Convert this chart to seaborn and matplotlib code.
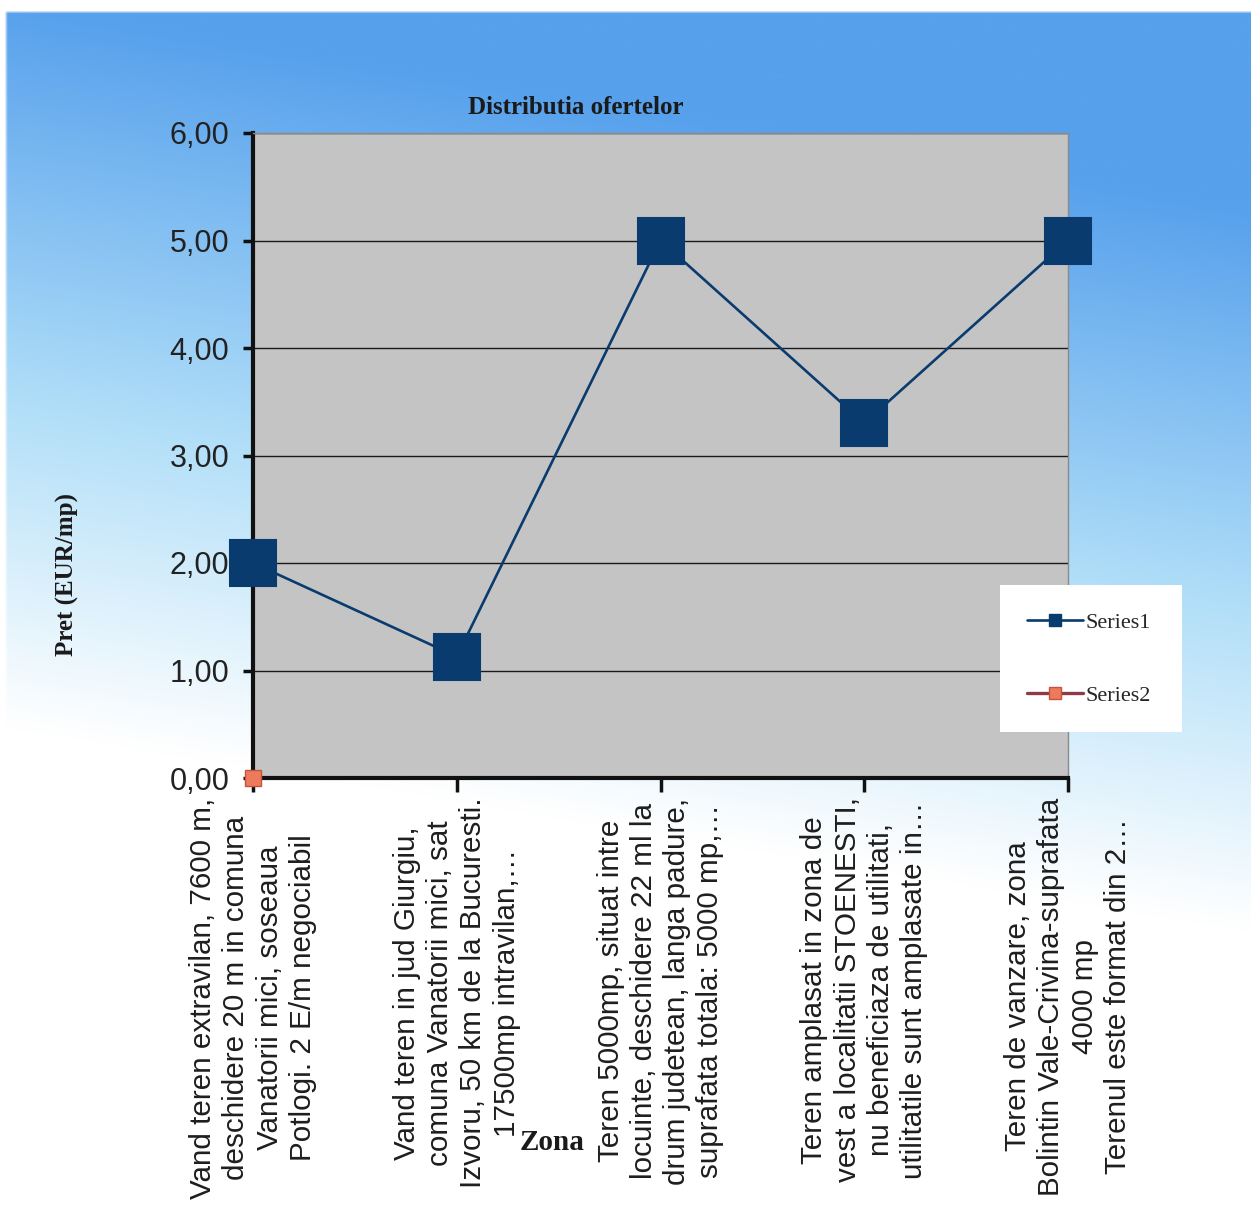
import numpy as np
import pandas as pd
import matplotlib
matplotlib.use("Agg")
import matplotlib.pyplot as plt
from matplotlib.lines import Line2D
from matplotlib.patches import Rectangle
import seaborn as sns

# ---- data -------------------------------------------------------------
zone_labels = [
    "Vand teren extravilan, 7600 m,\ndeschidere 20 m in comuna\nVanatorii mici, soseaua\nPotlogi. 2 E/m negociabil",
    "Vand teren in jud Giurgiu,\ncomuna Vanatorii mici, sat\nIzvoru, 50 km de la Bucuresti.\n17500mp intravilan,\u2026",
    "Teren 5000mp, situat intre\nlocuinte, deschidere 22 ml la\ndrum judetean, langa padure,\nsuprafata totala: 5000 mp,\u2026",
    "Teren amplasat in zona de\nvest a localitatii STOENESTI,\nnu beneficiaza de utilitati,\nutilitatile sunt amplasate in\u2026",
    "Teren de vanzare, zona\nBolintin Vale-Crivina-suprafata\n4000 mp\nTerenul este format din 2\u2026",
]
series1_price = [2.00, 1.13, 5.00, 3.30, 5.00]
series2_price = [0.00]
y_ticks = [0, 1, 2, 3, 4, 5, 6]
y_tick_labels = ["0,00", "1,00", "2,00", "3,00", "4,00", "5,00", "6,00"]
series_names = ["Series1", "Series2"]

df1 = pd.DataFrame({"pos": np.arange(len(series1_price)), "pret": series1_price})
df2 = pd.DataFrame({"pos": np.arange(len(series2_price)), "pret": series2_price})

# ---- styling ----------------------------------------------------------
sns.set_style("white")
plt.rcParams["font.family"] = ["Liberation Sans", "DejaVu Sans"]

NAVY = "#0a3b6e"
S2_LINE = "#8e3a48"
S2_FACE = "#ee7a5c"
S2_EDGE = "#c4553a"
W, H = 1251, 1209

fig = plt.figure(figsize=(W / 100, H / 100), dpi=100)

# sky-blue gradient backdrop behind everything
bg = fig.add_axes([0, 0, 1, 1], zorder=-10)
gh, gw = 400, 400
vv, uu = np.mgrid[0:1:gh * 1j, 0:1:gw * 1j]
s = np.clip((vv - 0.17 * uu) / 0.60, 0, 1)
c0 = np.array([86, 160, 236]) / 255
c1 = np.array([176, 222, 248]) / 255
c2 = np.array([1.0, 1.0, 1.0])
t1 = np.clip(s / 0.55, 0, 1)[..., None]
t2 = np.clip((s - 0.55) / 0.45, 0, 1)[..., None]
img = np.where(s[..., None] < 0.55, c0 * (1 - t1) + c1 * t1, c1 * (1 - t2) + c2 * t2)
img[vv < 12 / H] = 1.0
img[:, uu[0] < 5 / W] = 1.0
bg.imshow(img, extent=[0, 1, 1, 0], aspect="auto", interpolation="bilinear")
bg.set_xlim(0, 1)
bg.set_ylim(1, 0)
bg.axis("off")

# plot area
ax = fig.add_axes([253 / W, 1 - 778 / H, (1068 - 253) / W, (778 - 133) / H])
ax.set_facecolor("#c4c4c4")

sns.lineplot(data=df1, x="pos", y="pret", ax=ax, color=NAVY, linewidth=1.9,
             marker="s", markersize=33, markeredgecolor=NAVY, markeredgewidth=1.5,
             clip_on=False, zorder=6, legend=False)
sns.lineplot(data=df2, x="pos", y="pret", ax=ax, color=S2_LINE, linewidth=1.8,
             marker="s", markersize=12, markerfacecolor=S2_FACE,
             markeredgecolor=S2_EDGE, markeredgewidth=1.0,
             clip_on=False, zorder=7, legend=False)

ax.set_xlim(0, len(series1_price) - 1)
ax.set_ylim(0, 6)
ax.set_yticks(y_ticks)
ax.set_yticklabels(y_tick_labels, fontsize=22, color="#222222")
ax.set_xticks(np.arange(len(zone_labels)))
ax.set_xticklabels(zone_labels, rotation=90, ha="center", va="top",
                   multialignment="center", fontsize=21.3, linespacing=1.24,
                   color="#1e1e1e")
ax.set_xlabel("")
ax.set_ylabel("")

ax.yaxis.grid(True, color="#1a1a1a", linewidth=1.0)
ax.xaxis.grid(False)
ax.set_axisbelow(True)
ax.tick_params(axis="y", direction="out", length=7, width=2.5, pad=10, color="#111111", left=True)
ax.tick_params(axis="x", direction="out", length=10, width=2.5, pad=4, color="#111111", bottom=True)

for side in ("left", "bottom"):
    ax.spines[side].set_color("#111111")
    ax.spines[side].set_linewidth(3.0)
for side in ("top", "right"):
    ax.spines[side].set_color("#8a8a8a")
    ax.spines[side].set_linewidth(1.0)

# titles
fig.text(576 / W, 1 - 107 / H, "Distributia ofertelor", ha="center", va="center",
         fontsize=18, fontweight="bold", family="Liberation Serif", color="#1a1a1a")
fig.text(67 / W, 1 - 575 / H, "Pret (EUR/mp)", ha="center", va="center", rotation=90,
         fontsize=18, fontweight="bold", family="Liberation Serif", color="#1a1a1a")
fig.text(552 / W, 1 - 1143 / H, "Zona", ha="center", va="center",
         fontsize=21, fontweight="bold", family="Liberation Serif", color="#1a1a1a")

# legend panel
fig.patches.append(Rectangle((1000 / W, 1 - 732 / H), 182 / W, 147 / H,
                             transform=fig.transFigure, facecolor="white",
                             edgecolor="none", zorder=20))
handles = [
    Line2D([], [], color=NAVY, linewidth=1.9, marker="s", markersize=8.5,
           markerfacecolor=NAVY, markeredgecolor=NAVY),
    Line2D([], [], color=S2_LINE, linewidth=2.4, marker="s", markersize=8.5,
           markerfacecolor=S2_FACE, markeredgecolor=S2_EDGE),
]
leg = fig.legend(handles, series_names, loc="center left",
                 bbox_to_anchor=(1027 / W, 1 - 659 / H), frameon=False,
                 prop={"family": "Liberation Serif", "size": 16},
                 handlelength=2.5, handletextpad=0.12, labelspacing=2.35,
                 borderpad=0, borderaxespad=0)
leg.set_zorder(30)

fig.savefig("out.png", dpi=100)
